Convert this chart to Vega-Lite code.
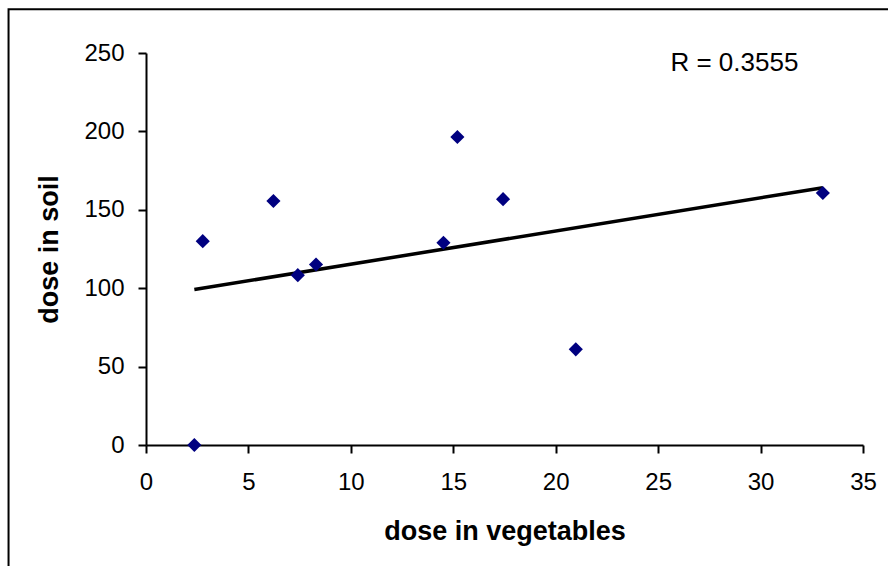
{
  "$schema": "https://vega.github.io/schema/vega-lite/v6.json",
  "autosize": "none",
  "width": 717,
  "height": 392,
  "padding": {"left": 146, "top": 53, "right": 25, "bottom": 121},
  "background": "white",
  "config": {
    "view": {"stroke": null},
    "font": "Liberation Sans",
    "axis": {
      "domainColor": "black",
      "domainWidth": 2,
      "tickColor": "black",
      "tickWidth": 2,
      "tickSize": 8,
      "grid": false,
      "labelFont": "Liberation Sans",
      "labelFontSize": 24,
      "labelColor": "black",
      "titleFont": "Liberation Sans",
      "titleFontSize": 27,
      "titleFontWeight": "bold",
      "titleColor": "black"
    }
  },
  "data": {
    "values": [
      {"veg": 2.36, "soil": 0},
      {"veg": 2.77, "soil": 130},
      {"veg": 6.22, "soil": 155.6},
      {"veg": 7.41, "soil": 108.3},
      {"veg": 8.3, "soil": 115.1},
      {"veg": 14.52, "soil": 129},
      {"veg": 15.2, "soil": 196.4},
      {"veg": 17.43, "soil": 156.8},
      {"veg": 20.98, "soil": 61},
      {"veg": 33.04, "soil": 160.7}
    ]
  },
  "layer": [
    {
      "data": {"values": [{}]},
      "mark": {"type": "rect", "fill": null, "stroke": "black", "strokeWidth": 2, "clip": false},
      "encoding": {
        "x": {"datum": -6.71, "type": "quantitative", "scale": {"domain": [0, 35], "nice": false, "zero": false}},
        "x2": {"datum": 37.5},
        "y": {"datum": 277.9, "type": "quantitative", "scale": {"domain": [0, 250], "nice": false}},
        "y2": {"datum": -90}
      }
    },
    {
      "transform": [{"regression": "soil", "on": "veg"}],
      "mark": {"type": "line", "color": "black", "strokeWidth": 3.5},
      "encoding": {
        "x": {"field": "veg", "type": "quantitative"},
        "y": {"field": "soil", "type": "quantitative"}
      }
    },
    {
      "mark": {"type": "point", "shape": "diamond", "filled": true, "color": "#000080", "size": 200, "opacity": 1},
      "encoding": {
        "x": {
          "field": "veg",
          "type": "quantitative",
          "scale": {"domain": [0, 35], "nice": false, "zero": false},
          "axis": {"values": [0, 5, 10, 15, 20, 25, 30, 35], "title": "dose in vegetables", "labelPadding": 17, "titlePadding": 24, "labelFlush": false}
        },
        "y": {
          "field": "soil",
          "type": "quantitative",
          "scale": {"domain": [0, 250], "nice": false},
          "axis": {"values": [0, 50, 100, 150, 200, 250], "title": "dose in soil", "labelPadding": 14, "titlePadding": 20, "labelFlush": false}
        }
      }
    },
    {
      "data": {"values": [{}]},
      "mark": {"type": "text", "text": "R = 0.3555", "align": "left", "baseline": "middle", "fontSize": 26, "color": "black", "font": "Liberation Sans"},
      "encoding": {
        "x": {"datum": 25.6, "type": "quantitative"},
        "y": {"datum": 243.5, "type": "quantitative"}
      }
    }
  ]
}
